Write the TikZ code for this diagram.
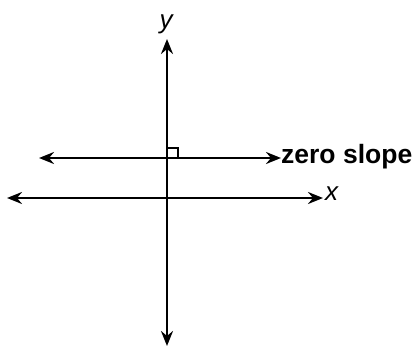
\documentclass[tikz,border=0pt]{standalone}
\usepackage{fontspec}
\setmainfont{Liberation Sans}
\usetikzlibrary{arrows.meta}
\begin{document}
\begin{tikzpicture}[x=1pt,y=-1pt,
  axis/.style={line width=2.4pt,{Stealth[length=15pt,width=12pt,inset=5pt]}-{Stealth[length=15pt,width=12pt,inset=5pt]}},
  lbl/.style={inner sep=0pt,font=\fontsize{26}{26}\selectfont\itshape}]
\useasboundingbox (0,0) rectangle (416,348);
\coordinate (yt) at (167,39);
\coordinate (yb) at (167,346);
\coordinate (xl) at (7,198);
\coordinate (xr) at (323,198);
\coordinate (zl) at (39,158);
\coordinate (zr) at (281,158);
\draw[axis] (yb) -- (yt);
\draw[axis] (xl) -- (xr);
\draw[axis] (zl) -- (zr);
\draw[line width=1.5pt] (167,148) -- (178,148) -- (178,158);
\node[lbl,anchor=south] (ylab) at (166,34) {y};
\node[lbl,anchor=west] (xlab) at (325,194) {x};
\node[inner sep=0pt,anchor=west,font=\fontsize{26.5}{26}\selectfont\bfseries] (zs) at (281,157) {zero slope};
\end{tikzpicture}
\end{document}
